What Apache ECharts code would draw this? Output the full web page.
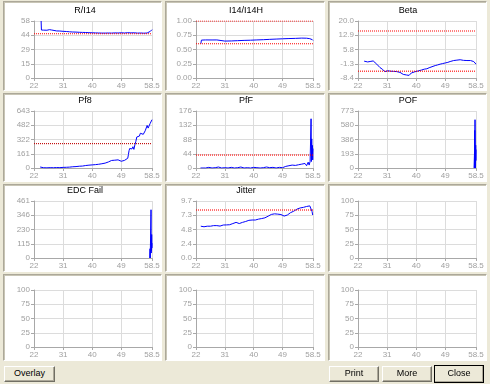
<!DOCTYPE html>
<html><head><meta charset="utf-8">
<script src="https://cdn.jsdelivr.net/npm/echarts@6/dist/echarts.min.js"></script>
<style>
html,body{margin:0;padding:0;width:490px;height:384px;overflow:hidden;background:#ECE9D8;font-family:"Liberation Sans",Arial,sans-serif;}
.panel{position:absolute;background:#fff;box-sizing:border-box;border:1px solid;border-color:#aca899 #fff #fff #aca899;box-shadow:inset 1px 1px 0 #c8c5b5;}
#chart{position:absolute;left:0;top:0;width:490px;height:384px;}
.btn{position:absolute;box-sizing:border-box;background:#ECE9D8;border:1px solid;border-color:#fff #716f64 #716f64 #fff;box-shadow:inset -1px -1px 0 #aca899;font-size:9px;color:#000;text-align:center;line-height:13px;}
</style></head>
<body>
<div id="panels"></div>
<div id="chart"></div>
<div class="btn" style="left:4px;top:366px;width:51px;height:16px;">Overlay</div>
<div class="btn" style="left:329px;top:366px;width:50px;height:16px;">Print</div>
<div class="btn" style="left:382px;top:366px;width:50px;height:16px;">More</div>
<div class="btn" style="left:434px;top:365px;width:50px;height:18px;outline:1px solid #000;outline-offset:-1px;line-height:15px;">Close</div>
<script>
// ---- data ----
const xTicks = [22, 31, 40, 49, 58.5];
const xTickLabels = ['22', '31', '40', '49', '58.5'];
const titles = ['R/I14', 'I14/I14H', 'Beta', 'Pf8', 'PfF', 'POF', 'EDC Fail', 'Jitter', '', '', '', ''];

const ri14Ticks = [0, 14.5, 29, 43.5, 58];
const ri14Labels = ['0', '15', '29', '44', '58'];
const i14Ticks = [0, 0.25, 0.5, 0.75, 1];
const i14Labels = ['0.00', '0.25', '0.50', '0.75', '1.00'];
const betaTicks = [-8.4, -1.3, 5.8, 12.9, 20];
const betaLabels = ['-8.4', '-1.3', '5.8', '12.9', '20.0'];
const pf8Ticks = [0, 160.75, 321.5, 482.25, 643];
const pf8Labels = ['0', '161', '322', '482', '643'];
const pffTicks = [0, 44, 88, 132, 176];
const pffLabels = ['0', '44', '88', '132', '176'];
const pofTicks = [0, 193.2, 386.4, 579.6, 772.8];
const pofLabels = ['0', '193', '386', '580', '773'];
const edcTicks = [0, 115.2, 230.4, 345.6, 460.8];
const edcLabels = ['0', '115', '230', '346', '461'];
const jitterTicks = [0, 2.42, 4.84, 7.26, 9.68];
const jitterLabels = ['0.0', '2.4', '4.8', '7.3', '9.7'];
const emptyTicks = [0, 25, 50, 75, 100];
const emptyLabels = ['0', '25', '50', '75', '100'];

const ri14Limits = [45];
const i14Limits = [1.0, 0.6];
const betaLimits = [15, -5];
const pf8Limits = [275];
const pffLimits = [40];
const jitterLimits = [8.15];

const ri14 = [[24.2,58],[24.3,48.8],[25,48.7],[26,48.6],[26.8,49.2],[27.5,48.8],[28,48.3],[29,47.9],[30,47.8],[31,47.5],[32,47.3],[33,47.0],[34,46.8],[35,46.7],[36,46.5],[37,46.4],[38,46.3],[39,46.1],[40,46.0],[41,45.9],[42,45.8],[43,45.7],[44,45.7],[45,45.8],[46,45.7],[47,45.9],[48,45.8],[49,46.0],[50,45.8],[51,46.1],[52,45.9],[53,46.0],[54,45.7],[55,45.8],[56,45.6],[57,45.8],[57.5,46.3],[58,47.5],[58.5,49.2]];
const i14 = [[23.5,0.60],[23.7,0.665],[25,0.668],[27,0.667],[28.5,0.668],[29,0.652],[31,0.648],[33,0.650],[35,0.655],[37,0.660],[39,0.663],[41,0.668],[43,0.672],[45,0.678],[47,0.683],[49,0.688],[51,0.692],[53,0.695],[55,0.700],[56.5,0.698],[57.5,0.690],[58.3,0.672],[58.5,0.66]];
const beta = [[23.9,0.0],[24.5,-0.3],[25,-0.4],[25.5,-0.2],[26,-0.1],[26.7,0.1],[27.2,-0.6],[27.8,-1.5],[28.2,-2.3],[28.8,-3.2],[29.5,-4.0],[30,-4.7],[30.3,-5.2],[30.8,-4.9],[31.3,-4.8],[32,-5.0],[32.4,-4.9],[33,-5.1],[33.9,-5.2],[34.5,-5.3],[35,-5.6],[35.5,-6.0],[36,-6.6],[36.5,-6.7],[37,-6.9],[37.4,-7.4],[37.8,-7.1],[38.1,-6.2],[38.5,-5.9],[39.1,-5.6],[39.6,-5.3],[40.1,-5.0],[40.8,-4.8],[41.7,-4.4],[42.5,-4.0],[43.3,-3.8],[44,-3.3],[44.6,-3.0],[45.2,-2.6],[45.9,-2.2],[46.6,-1.9],[47.4,-1.5],[48.2,-1.2],[49,-0.9],[49.8,-0.6],[50.5,-0.2],[51.1,0.1],[51.6,0.3],[52.1,0.2],[52.6,0.5],[53.1,0.4],[53.6,0.7],[54.1,0.5],[54.6,0.4],[55.2,0.6],[55.7,0.3],[56.2,0.4],[56.8,0.3],[57.3,0.1],[57.8,-0.2],[58.2,-0.8],[58.5,-1.5]];
const pf8 = [[23.9,11],[24.5,6],[25,3],[26,2],[27,4],[28,3],[29,5],[30,4],[31,7],[32,8],[33,10],[34,14],[35,16],[36,20],[36.5,26],[37,22],[38,28],[39,32],[40,35],[40.5,30],[41,38],[42,42],[43,48],[44,55],[44.5,62],[45,68],[45.5,78],[46,85],[46.5,95],[47,88],[47.5,100],[48,92],[48.5,82],[49,76],[49.5,90],[50,86],[50.5,95],[51,110],[51.2,150],[51.4,195],[51.6,220],[51.8,205],[52,230],[52.3,215],[52.6,240],[52.9,210],[53.2,260],[53.5,300],[53.8,350],[54,330],[54.3,372],[54.6,360],[54.9,392],[55.2,370],[55.5,410],[55.8,380],[56.1,400],[56.4,420],[56.7,440],[57,480],[57.3,450],[57.6,470],[57.9,500],[58.2,520],[58.5,545]];
const pff = [[23.4,0],[24,1],[25,0],[26,2],[27,0],[28,1],[29,3],[30,0],[31,1],[32,0],[33,2],[34,0],[35,1],[36,3],[37,0],[38,1],[39,0],[40,2],[41,1],[42,0],[43,1],[44,3],[45,1],[46,2],[47,0],[48,2],[48.5,4],[49,1],[49.5,3],[50,5],[50.5,2],[51,7],[51.5,4],[52,9],[52.5,3],[53,8],[53.5,5],[54,10],[54.5,4],[55,12],[55.5,6],[56,14],[56.5,7],[57,18],[57.3,9],[57.6,20],[57.8,15],[57.9,152],[58.0,20],[58.1,90],[58.2,35],[58.3,70],[58.4,25],[58.5,60]];
const pof = [[57.9,0],[58.0,0],[58.05,220],[58.1,0],[58.12,510],[58.15,0],[58.2,655],[58.25,40],[58.3,180],[58.35,0],[58.4,310],[58.45,100],[58.5,250]];
const edc = [[57.8,0],[57.9,75],[57.95,0],[58.1,0],[58.2,390],[58.25,40],[58.3,150],[58.35,60],[58.4,190],[58.45,80],[58.5,120]];
const jitter = [[23.5,5.4],[23.6,5.15],[24,5.2],[24.5,5.3],[25,5.25],[25.5,5.4],[26,5.5],[26.5,5.4],[27,5.55],[27.5,5.5],[28,5.62],[28.5,5.5],[29,5.55],[29.5,5.42],[30,5.5],[30.5,5.6],[31,5.5],[31.5,5.62],[32,5.7],[32.5,5.65],[33,5.8],[33.5,5.85],[34,5.95],[34.5,6.05],[35,5.98],[35.5,5.85],[36,5.92],[36.5,6.05],[37,6.12],[37.5,6.2],[38,6.32],[38.5,6.4],[39,6.38],[39.5,6.45],[40,6.48],[40.5,6.45],[41,6.55],[41.5,6.6],[42,6.58],[42.5,6.7],[43,6.75],[43.5,6.82],[44,6.95],[44.5,7.1],[45,7.3],[45.5,7.4],[46,7.38],[46.5,7.5],[47,7.55],[47.5,7.45],[48,7.5],[48.5,7.38],[49,7.3],[49.5,7.12],[50,7.05],[50.5,7.3],[51,7.5],[51.5,7.7],[52,7.75],[52.5,7.95],[53,8.1],[53.5,8.3],[54,8.55],[54.5,8.5],[55,8.65],[55.5,8.6],[56,8.7],[56.5,8.75],[57,8.7],[57.5,8.85],[58,8.95],[58.2,7.9],[58.4,7.3],[58.5,7.2]];

// ---- layout ----
const panelCols = [[3,162],[165,325],[328,487]];
const panelRows = [[1,91],[93,182],[184,272],[274,361]];
const gridCols = [[34,118],[196,117],[358,118]];
const gridRows = [21,111,201,290];
const titleX = [85,246,408];

const panelsEl = document.getElementById('panels');
panelRows.forEach(r => panelCols.forEach(c => {
  const d = document.createElement('div');
  d.className = 'panel';
  d.style.left = c[0] + 'px'; d.style.top = r[0] + 'px';
  d.style.width = (c[1] - c[0]) + 'px'; d.style.height = (r[1] - r[0]) + 'px';
  panelsEl.appendChild(d);
}));

const charts = [
  {ticks: ri14Ticks, labels: ri14Labels, data: ri14, limits: ri14Limits, lc: '#ff0000'},
  {ticks: i14Ticks, labels: i14Labels, data: i14, limits: i14Limits, lc: '#ff0000'},
  {ticks: betaTicks, labels: betaLabels, data: beta, limits: betaLimits, lc: '#ff0000'},
  {ticks: pf8Ticks, labels: pf8Labels, data: pf8, limits: pf8Limits, lc: '#c00000'},
  {ticks: pffTicks, labels: pffLabels, data: pff, limits: pffLimits, lc: '#ff0000'},
  {ticks: pofTicks, labels: pofLabels, data: pof, limits: [], lc: '#ff0000'},
  {ticks: edcTicks, labels: edcLabels, data: edc, limits: [], lc: '#ff0000'},
  {ticks: jitterTicks, labels: jitterLabels, data: jitter, limits: jitterLimits, lc: '#ff0000'},
  {ticks: emptyTicks, labels: emptyLabels, data: null, limits: []},
  {ticks: emptyTicks, labels: emptyLabels, data: null, limits: []},
  {ticks: emptyTicks, labels: emptyLabels, data: null, limits: []},
  {ticks: emptyTicks, labels: emptyLabels, data: null, limits: []}
];

function labelFor(ticks, labels, v) {
  let best = 0;
  for (let i = 1; i < ticks.length; i++) if (Math.abs(ticks[i] - v) < Math.abs(ticks[best] - v)) best = i;
  return labels[best];
}

const grid = [], xAxis = [], yAxis = [], series = [], graphic = [];
const axisGray = '#a8a8a8', gridGray = '#dcdcdc', labelGray = '#a0a0a0';
charts.forEach((c, i) => {
  const col = i % 3, row = Math.floor(i / 3);
  grid.push({left: gridCols[col][0], top: gridRows[row], width: gridCols[col][1], height: 57});
  xAxis.push({
    type: 'value', gridIndex: i, min: xTicks[0], max: xTicks[xTicks.length - 1],
    axisLine: {show: true, onZero: false, lineStyle: {color: axisGray, width: 1}},
    axisTick: {show: true, length: 3, customValues: xTicks, lineStyle: {color: axisGray}},
    axisLabel: {show: true, customValues: xTicks, fontSize: 8, color: labelGray, margin: 4,
      fontFamily: 'Liberation Sans', formatter: v => labelFor(xTicks, xTickLabels, v)},
    splitLine: {show: true, lineStyle: {color: gridGray, width: 1}}
  });
  yAxis.push({
    type: 'value', gridIndex: i, min: c.ticks[0], max: c.ticks[c.ticks.length - 1],
    axisLine: {show: true, onZero: false, lineStyle: {color: axisGray, width: 1}},
    axisTick: {show: true, length: 3, customValues: c.ticks, lineStyle: {color: axisGray}},
    axisLabel: {show: true, customValues: c.ticks, fontSize: 8, color: labelGray, margin: 4,
      fontFamily: 'Liberation Sans', formatter: v => labelFor(c.ticks, c.labels, v)},
    splitLine: {show: true, lineStyle: {color: gridGray, width: 1}}
  });
  c.limits.forEach(v => {
    series.push({
      type: 'line', xAxisIndex: i, yAxisIndex: i, symbol: 'none', silent: true,
      data: [[xTicks[0], v], [xTicks[xTicks.length - 1], v]],
      color: c.lc,
      lineStyle: {color: c.lc, type: [1, 1], width: 1.1}, animation: false, z: 4
    });
  });
  if (c.data) {
    series.push({
      type: 'line', xAxisIndex: i, yAxisIndex: i, data: c.data, symbol: 'none',
      color: '#0000ff',
      lineStyle: {color: '#0000ff', width: 1}, animation: false, z: 3
    });
  }
  if (titles[i]) {
    graphic.push({type: 'text', x: titleX[col], y: 6 + row * 90,
      style: {text: titles[i], fill: '#000', fontSize: 9, fontFamily: 'Liberation Sans', textAlign: 'center', textVerticalAlign: 'top'}});
  }
});

const chart = echarts.init(document.getElementById('chart'), null, {renderer: 'canvas'});
chart.setOption({
  backgroundColor: 'transparent',
  animation: false,
  grid, xAxis, yAxis, series, graphic
});
</script>
</body></html>
